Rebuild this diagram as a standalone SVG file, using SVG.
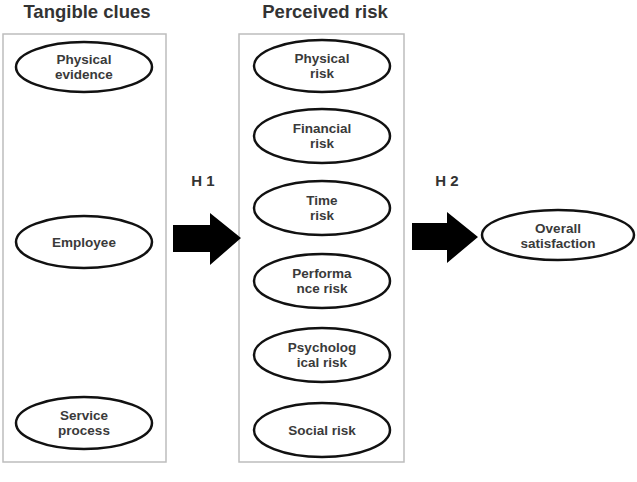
<svg xmlns="http://www.w3.org/2000/svg" width="637" height="482" viewBox="0 0 637 482">
  <style>
    .panel { fill: #ffffff; stroke: #bdbdbd; stroke-width: 1.5; }
    .node { fill: #ffffff; stroke: #111111; stroke-width: 2.5; }
    .label { font-family: "Liberation Sans", Arial, sans-serif; font-weight: bold; font-size: 13.5px; fill: #3a3a3a; text-anchor: middle; }
    .title { font-family: "Liberation Sans", Arial, sans-serif; font-weight: bold; font-size: 18.5px; fill: #333333; text-anchor: middle; }
    .hyp { font-family: "Liberation Sans", Arial, sans-serif; font-weight: bold; font-size: 15px; fill: #333333; text-anchor: middle; }
    .bigarrow { fill: #000000; }
  </style>
  <rect width="637" height="482" fill="#ffffff"/>

  <!-- Group frames and headings -->
  <g id="tangible-clues">
    <rect class="panel" x="3" y="34" width="163" height="428"/>
    <text class="title" x="87" y="18">Tangible clues</text>
  </g>
  <g id="perceived-risk">
    <rect class="panel" x="239" y="34" width="165" height="428"/>
    <text class="title" x="325" y="18">Perceived risk</text>
  </g>

  <!-- Tangible clue nodes -->
  <g id="physical-evidence">
    <ellipse class="node" cx="84" cy="67" rx="68" ry="25"/>
    <text class="label" x="84" y="64">Physical</text>
    <text class="label" x="84" y="79">evidence</text>
  </g>
  <g id="employee">
    <ellipse class="node" cx="84" cy="242" rx="68" ry="26"/>
    <text class="label" x="84" y="247">Employee</text>
  </g>
  <g id="service-process">
    <ellipse class="node" cx="84" cy="423" rx="68" ry="26"/>
    <text class="label" x="84" y="420">Service</text>
    <text class="label" x="84" y="435">process</text>
  </g>

  <!-- Perceived risk nodes -->
  <g id="physical-risk">
    <ellipse class="node" cx="322" cy="66" rx="68" ry="26"/>
    <text class="label" x="322" y="63">Physical</text>
    <text class="label" x="322" y="78">risk</text>
  </g>
  <g id="financial-risk">
    <ellipse class="node" cx="322" cy="136" rx="68" ry="27"/>
    <text class="label" x="322" y="133">Financial</text>
    <text class="label" x="322" y="148">risk</text>
  </g>
  <g id="time-risk">
    <ellipse class="node" cx="322" cy="208" rx="68" ry="27"/>
    <text class="label" x="322" y="205">Time</text>
    <text class="label" x="322" y="220">risk</text>
  </g>
  <g id="performance-risk">
    <ellipse class="node" cx="322" cy="281" rx="68" ry="27"/>
    <text class="label" x="322" y="278">Performa</text>
    <text class="label" x="322" y="293">nce risk</text>
  </g>
  <g id="psychological-risk">
    <ellipse class="node" cx="322" cy="355" rx="68" ry="27"/>
    <text class="label" x="322" y="352">Psycholog</text>
    <text class="label" x="322" y="367">ical risk</text>
  </g>
  <g id="social-risk">
    <ellipse class="node" cx="322" cy="430" rx="68" ry="27"/>
    <text class="label" x="322" y="435">Social risk</text>
  </g>

  <!-- Outcome node -->
  <g id="overall-satisfaction">
    <ellipse class="node" cx="558" cy="235" rx="76" ry="25"/>
    <text class="label" x="558" y="233">Overall</text>
    <text class="label" x="558" y="248">satisfaction</text>
  </g>

  <!-- Block arrows between stages -->
  <g id="connectors">
    <g id="h1">
      <polygon class="bigarrow" points="173,225 210,225 210,213 241,238 210,265 210,252 173,252"/>
      <text class="hyp" x="203" y="186">H 1</text>
    </g>
    <g id="h2">
      <polygon class="bigarrow" points="412,223 447,223 447,212 478,237 447,263 447,250 412,250"/>
      <text class="hyp" x="447" y="186">H 2</text>
    </g>
  </g>
</svg>
